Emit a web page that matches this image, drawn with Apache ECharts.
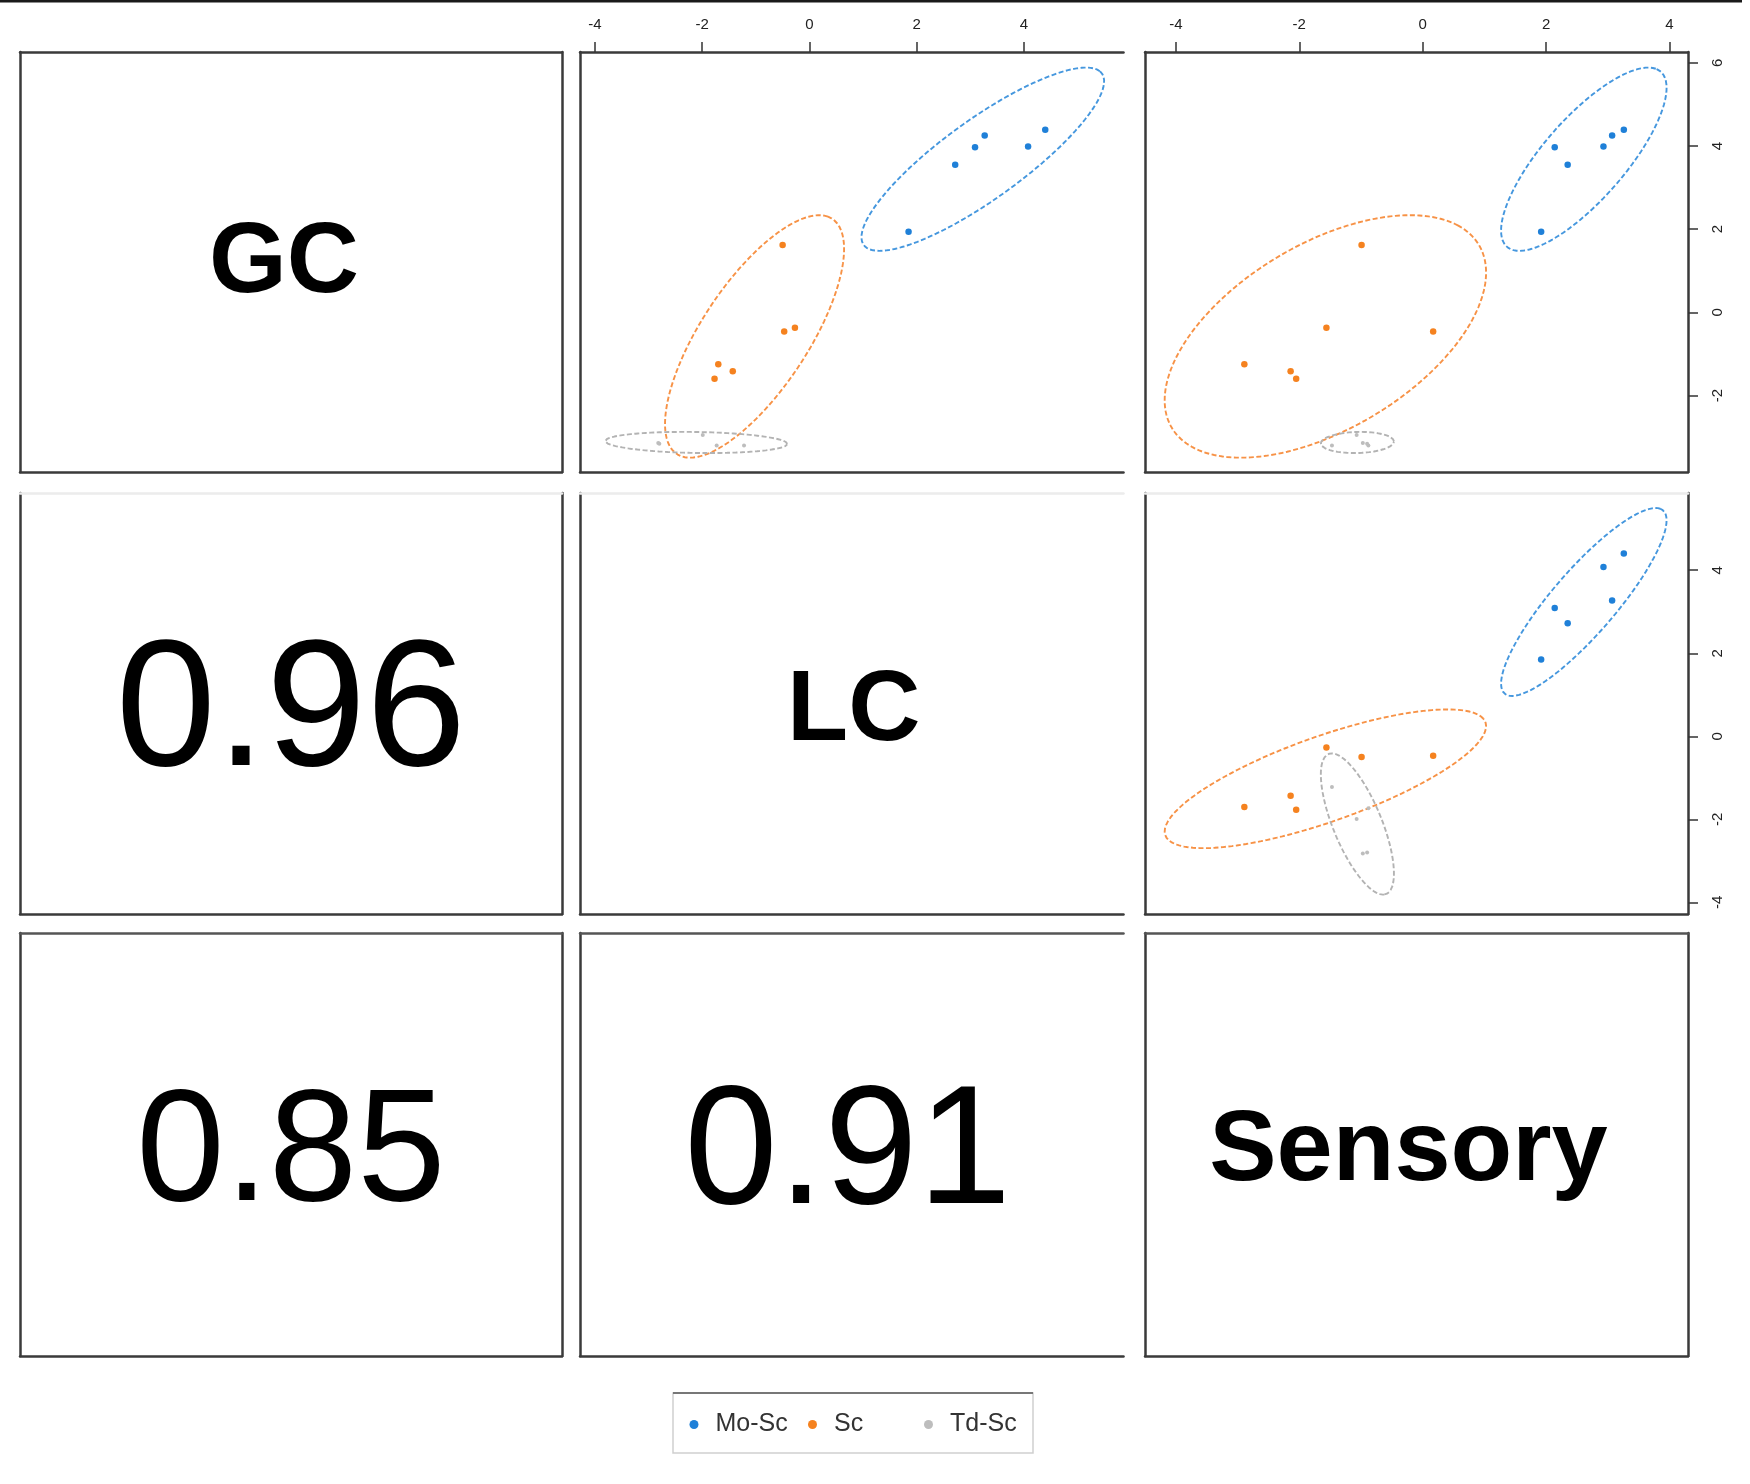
<!DOCTYPE html>
<html><head><meta charset="utf-8">
<script src="https://cdn.jsdelivr.net/npm/echarts@6/dist/echarts.min.js"></script>
<style>html,body{margin:0;padding:0;background:#fff}#c{width:1750px;height:1484px}</style>
</head><body><div id="c"></div>
<script>
// ---------- data ----------
const varNames = ['GC', 'LC', 'Sensory'];
const groups = ['Mo-Sc', 'Sc', 'Td-Sc'];
// correlation labels for lower panels: (LC,GC), (Sensory,GC), (Sensory,LC)
const corLabels = ['0.96', '0.85', '0.91'];

const moScGC   = [4.39, 4.25, 3.99, 3.97, 3.55, 1.94];
const moScLC   = [4.40, 3.27, 4.08, 3.09, 2.72, 1.85];
const moScSens = [3.26, 3.07, 2.93, 2.14, 2.35, 1.92];

const scGC   = [1.62, -0.37, -0.46, -1.25, -1.42, -1.60];
const scLC   = [-0.50, -0.27, -0.47, -1.70, -1.43, -1.77];
const scSens = [-0.99, -1.56, 0.17, -2.89, -2.14, -2.05];

const tdScGC   = [-3.20, -2.95, -3.14, -3.20, -3.16];
const tdScLC   = [-1.22, -1.99, -2.82, -1.73, -2.80];
const tdScSens = [-1.47, -1.07, -0.97, -0.88, -0.90];

const gcTicks   = [-2, 0, 2, 4, 6];
const lcTicks   = [-4, -2, 0, 2, 4];
const sensTicks = [-4, -2, 0, 2, 4];

// ---------- layout / style ----------
const groupData = {
  'Mo-Sc': {GC: moScGC, LC: moScLC, Sensory: moScSens},
  'Sc':    {GC: scGC,   LC: scLC,   Sensory: scSens},
  'Td-Sc': {GC: tdScGC, LC: tdScLC, Sensory: tdScSens}
};
const ticks  = {GC: gcTicks, LC: lcTicks, Sensory: sensTicks};
const ranges = {GC: [-3.84, 6.26], LC: [-4.28, 5.86], Sensory: [-4.50, 4.30]};
const pointColor   = {'Mo-Sc': '#1f80d8', 'Sc': '#f5821f', 'Td-Sc': '#bdbdbd'};
const ellipseColor = {'Mo-Sc': '#4597de', 'Sc': '#f79246', 'Td-Sc': '#b3b3b3'};
const pointSize    = {'Mo-Sc': 6.5, 'Sc': 6.5, 'Td-Sc': 4};

const cols = [{x: 20, w: 542}, {x: 580, w: 543.5}, {x: 1145, w: 543}];
const rows = [{y: 52, h: 420}, {y: 493, h: 421}, {y: 933, h: 423}];
const FONT = '"Liberation Sans", Arial, Helvetica, sans-serif';
const DARK = '#3a3a3a';

function borderColor(side, r, c) {
  if (side === 'left' || side === 'bottom') return DARK;
  if (side === 'top') return r === 0 ? DARK : (r === 1 ? '#ececec' : '#555555');
  if (side === 'right') return c === 1 ? null : DARK;
}

// data ellipse (95% normal-theory) computed from the group's points
function dataEllipse(xs, ys, k, n) {
  const m = xs.length;
  const mx = xs.reduce((a, b) => a + b, 0) / m;
  const my = ys.reduce((a, b) => a + b, 0) / m;
  let sxx = 0, syy = 0, sxy = 0;
  for (let i = 0; i < m; i++) {
    const dx = xs[i] - mx, dy = ys[i] - my;
    sxx += dx * dx; syy += dy * dy; sxy += dx * dy;
  }
  sxx /= (m - 1); syy /= (m - 1); sxy /= (m - 1);
  const tr = sxx + syy, det = sxx * syy - sxy * sxy;
  const disc = Math.sqrt(Math.max(tr * tr / 4 - det, 0));
  const l1 = tr / 2 + disc, l2 = Math.max(tr / 2 - disc, 0);
  const th = 0.5 * Math.atan2(2 * sxy, sxx - syy);
  const a = k * Math.sqrt(l1), b = k * Math.sqrt(l2);
  const pts = [];
  for (let i = 0; i <= n; i++) {
    const t = 2 * Math.PI * i / n;
    pts.push([
      mx + a * Math.cos(t) * Math.cos(th) - b * Math.sin(t) * Math.sin(th),
      my + a * Math.cos(t) * Math.sin(th) + b * Math.sin(t) * Math.cos(th)
    ]);
  }
  return pts;
}
const K = Math.sqrt(5.991);

const grids = [], xAxes = [], yAxes = [], scatterSeries = [], ellipseSeries = [], graphics = [];

function lineSty(col) {
  return {show: !!col, onZero: false, lineStyle: {color: col || '#000', width: 2.5}};
}
function tickSty(show, vals) {
  return show ? {show: true, customValues: vals, length: 10, inside: false,
                 lineStyle: {color: '#333', width: 1.5}} : {show: false};
}

// text styling for diagonal names and correlation numbers: [fontSize, dx, dy]
const nameStyle = [[100, -7, 2], [100, 2, 9], [101, -8, 8]];
const corStyle  = [[180, 0, 12], [159, 0, 12], [168, -4, 12]];

for (let r = 0; r < 3; r++) {
  for (let c = 0; c < 3; c++) {
    const g = r * 3 + c;
    const col = cols[c], row = rows[r];
    grids.push({left: col.x, top: row.y, width: col.w, height: row.h});
    const isScatter = r < c;
    const xv = varNames[c], yv = varNames[r];
    const xr = isScatter ? ranges[xv] : [0, 1];
    const yr = isScatter ? ranges[yv] : [0, 1];
    const topLab = r === 0 && c >= 1;
    const rightLab = c === 2 && r <= 1;

    xAxes.push({type: 'value', gridIndex: g, position: 'bottom', min: xr[0], max: xr[1],
      axisLine: lineSty(borderColor('bottom', r, c)), axisTick: {show: false},
      axisLabel: {show: false}, splitLine: {show: false}});
    xAxes.push({type: 'value', gridIndex: g, position: 'top', min: xr[0], max: xr[1],
      axisLine: lineSty(borderColor('top', r, c)),
      axisTick: tickSty(topLab, ticks[xv]),
      axisLabel: topLab ? {show: true, customValues: ticks[xv], fontSize: 15, color: '#222',
                           fontFamily: FONT, margin: 20} : {show: false},
      splitLine: {show: false}});
    yAxes.push({type: 'value', gridIndex: g, position: 'left', min: yr[0], max: yr[1],
      axisLine: lineSty(borderColor('left', r, c)), axisTick: {show: false},
      axisLabel: {show: false}, splitLine: {show: false}});
    yAxes.push({type: 'value', gridIndex: g, position: 'right', min: yr[0], max: yr[1],
      axisLine: lineSty(borderColor('right', r, c)),
      axisTick: tickSty(rightLab, ticks[yv]),
      axisLabel: rightLab ? {show: true, customValues: ticks[yv], fontSize: 15, color: '#222',
                             fontFamily: FONT, rotate: 90, margin: 22} : {show: false},
      splitLine: {show: false}});

    const cx = col.x + col.w / 2, cy = row.y + row.h / 2;
    if (isScatter) {
      groups.forEach(gr => {
        const xs = groupData[gr][xv], ys = groupData[gr][yv];
        scatterSeries.push({
          name: gr, type: 'scatter', xAxisIndex: 2 * g, yAxisIndex: 2 * g,
          data: xs.map((x, i) => [x, ys[i]]), symbol: 'circle', symbolSize: pointSize[gr],
          itemStyle: {color: pointColor[gr], opacity: 1}, z: 5, silent: true
        });
        ellipseSeries.push({
          name: gr + ' ellipse', type: 'line', xAxisIndex: 2 * g, yAxisIndex: 2 * g,
          data: dataEllipse(xs, ys, K, 180), showSymbol: false, symbol: 'none', smooth: false,
          clip: true, lineStyle: {color: ellipseColor[gr], width: 1.9, type: [5, 2.5]},
          z: 3, silent: true, animation: false
        });
      });
    } else if (r === c) {
      const s = nameStyle[r];
      graphics.push({type: 'text', x: cx + s[1], y: cy + s[2], silent: true,
        style: {text: varNames[r], fontSize: s[0], fontWeight: 'bold', fontFamily: FONT,
                fill: '#000', align: 'center', verticalAlign: 'middle'}});
    } else {
      const idx = (r === 1 && c === 0) ? 0 : (r === 2 && c === 0 ? 1 : 2);
      const s = corStyle[idx];
      graphics.push({type: 'text', x: cx + s[1], y: cy + s[2], silent: true,
        style: {text: corLabels[idx], fontSize: s[0], fontFamily: FONT,
                fill: '#000', align: 'center', verticalAlign: 'middle'}});
    }
  }
}

// legend box (R-style fixed-width columns), top rule of the figure
const legendBox = {x: 673, y: 1393, w: 360, h: 60};
const legendColLeft = [689.5, 808, 924];
graphics.push({type: 'rect', silent: true, z: -1,
  shape: {x: legendBox.x, y: legendBox.y, width: legendBox.w, height: legendBox.h},
  style: {fill: '#fff', stroke: '#cfcfcf', lineWidth: 1.5}});
graphics.push({type: 'line', silent: true, z: 100,
  shape: {x1: legendBox.x, y1: legendBox.y, x2: legendBox.x + legendBox.w, y2: legendBox.y},
  style: {stroke: '#777', lineWidth: 2}});
graphics.push({type: 'rect', left: 0, top: 0, silent: true, shape: {width: 1742, height: 2.5},
  style: {fill: '#1a1a1a'}});

const legends = groups.map((gr, i) => ({
  data: [gr], left: legendColLeft[i], top: 1412, orient: 'horizontal', padding: 0,
  itemWidth: 9, itemHeight: 9, icon: 'circle', selectedMode: false,
  textStyle: {fontSize: 25, color: '#333', fontFamily: FONT, padding: [0, 0, 0, 12]}
}));

const chart = echarts.init(document.getElementById('c'), null, {renderer: 'canvas'});
chart.setOption({
  animation: false,
  backgroundColor: '#ffffff',
  grid: grids,
  xAxis: xAxes,
  yAxis: yAxes,
  series: scatterSeries.concat(ellipseSeries),
  legend: legends,
  graphic: graphics
});
</script></body></html>
